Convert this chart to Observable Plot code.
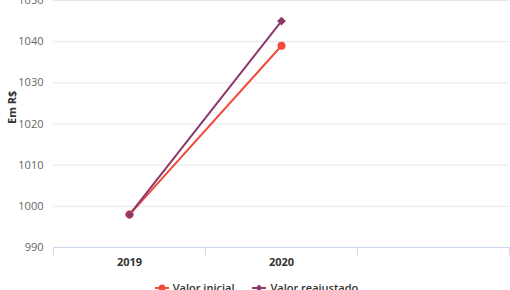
<!DOCTYPE html>
<html>
<head>
<meta charset="utf-8">
<script src="https://cdn.jsdelivr.net/npm/d3@7"></script>
<script src="https://cdn.jsdelivr.net/npm/@observablehq/plot@0.6"></script>
<style>
  html, body { margin: 0; padding: 0; background: #fff; }
  body { width: 510px; height: 290px; overflow: hidden; font-family: "Open Sans", sans-serif; }
  #legend { display: flex; justify-content: center; gap: 18px; margin-top: 8px; font-size: 11px; font-weight: 600; color: #333; line-height: 16px; padding-left: 3px; }
  #legend .item { display: flex; align-items: center; gap: 4px; }
  #legend svg { display: block; }
</style>
</head>
<body>
<div id="chart"></div>
<div id="legend"></div>
<script>
const categories = ["2019", "2020", ""];
const seriesNames = ["Valor inicial", "Valor reajustado"];
const valorInicial = [998, 1039];
const valorReajustado = [998, 1045];
const yTicks = [990, 1000, 1010, 1020, 1030, 1040, 1050];
const yTitle = "Em R$";
const colors = ["#f24b3c", "#8c3a6c"];
const symbols = ["circle", "diamond2"];

const rows = [];
[valorInicial, valorReajustado].forEach((vals, s) => {
  vals.forEach((v, i) => rows.push({series: seriesNames[s], i, value: v}));
});
const bounds = d3.range(categories.length + 1).map(i => i - 0.5);
const centers = d3.range(categories.length);

const W = 510, H = 272;
const chart = Plot.plot({
  width: W,
  height: H,
  marginTop: 0,
  marginLeft: 53,
  marginRight: 1,
  marginBottom: 25,
  style: {fontFamily: "Open Sans, sans-serif", background: "#fff", overflow: "visible"},
  x: {type: "linear", domain: [-0.5, categories.length - 0.5]},
  y: {domain: [990, 1050]},
  color: {domain: seriesNames, range: colors},
  symbol: {domain: seriesNames, range: symbols},
  marks: [
    Plot.gridY(yTicks, {stroke: "#e6e6e6", strokeOpacity: 1, strokeWidth: 1}),
    Plot.axisY(yTicks, {tickSize: 0, tickPadding: 10, fontSize: 11, fill: "#666", label: null, tickFormat: d3.format("d")}),
    Plot.ruleY([990], {stroke: "#ccd6eb", strokeWidth: 1}),
    Plot.axisX(bounds, {tickSize: 8, stroke: "#ccd6eb", tickFormat: () => "", label: null}),
    Plot.axisX(centers, {tickSize: 0, tickPadding: 11, tickFormat: i => categories[i], fontSize: 11, fontWeight: "bold", fill: "#333", label: null}),
    Plot.text([yTitle], {frameAnchor: "left", dx: -41, rotate: -90, fontWeight: "bold", fontSize: 11, fill: "#333"}),
    Plot.line(rows, {x: "i", y: "value", z: "series", stroke: "series", strokeWidth: 2}),
    Plot.dot(rows, {x: "i", y: "value", fill: "series", symbol: "series", r: 4, stroke: "none"})
  ]
});
document.getElementById("chart").appendChild(chart);

const legend = document.getElementById("legend");
seriesNames.forEach((name, s) => {
  const item = document.createElement("div");
  item.className = "item";
  const sym = s === 0
    ? `<circle cx="7" cy="6" r="3.5" fill="${colors[s]}"/>`
    : `<path d="M7 2.5 L10.5 6 L7 9.5 L3.5 6 Z" fill="${colors[s]}"/>`;
  item.innerHTML = `<svg width="14" height="12"><line x1="0" y1="6" x2="14" y2="6" stroke="${colors[s]}" stroke-width="2"/>${sym}</svg><span>${name}</span>`;
  legend.appendChild(item);
});
</script>
</body>
</html>
